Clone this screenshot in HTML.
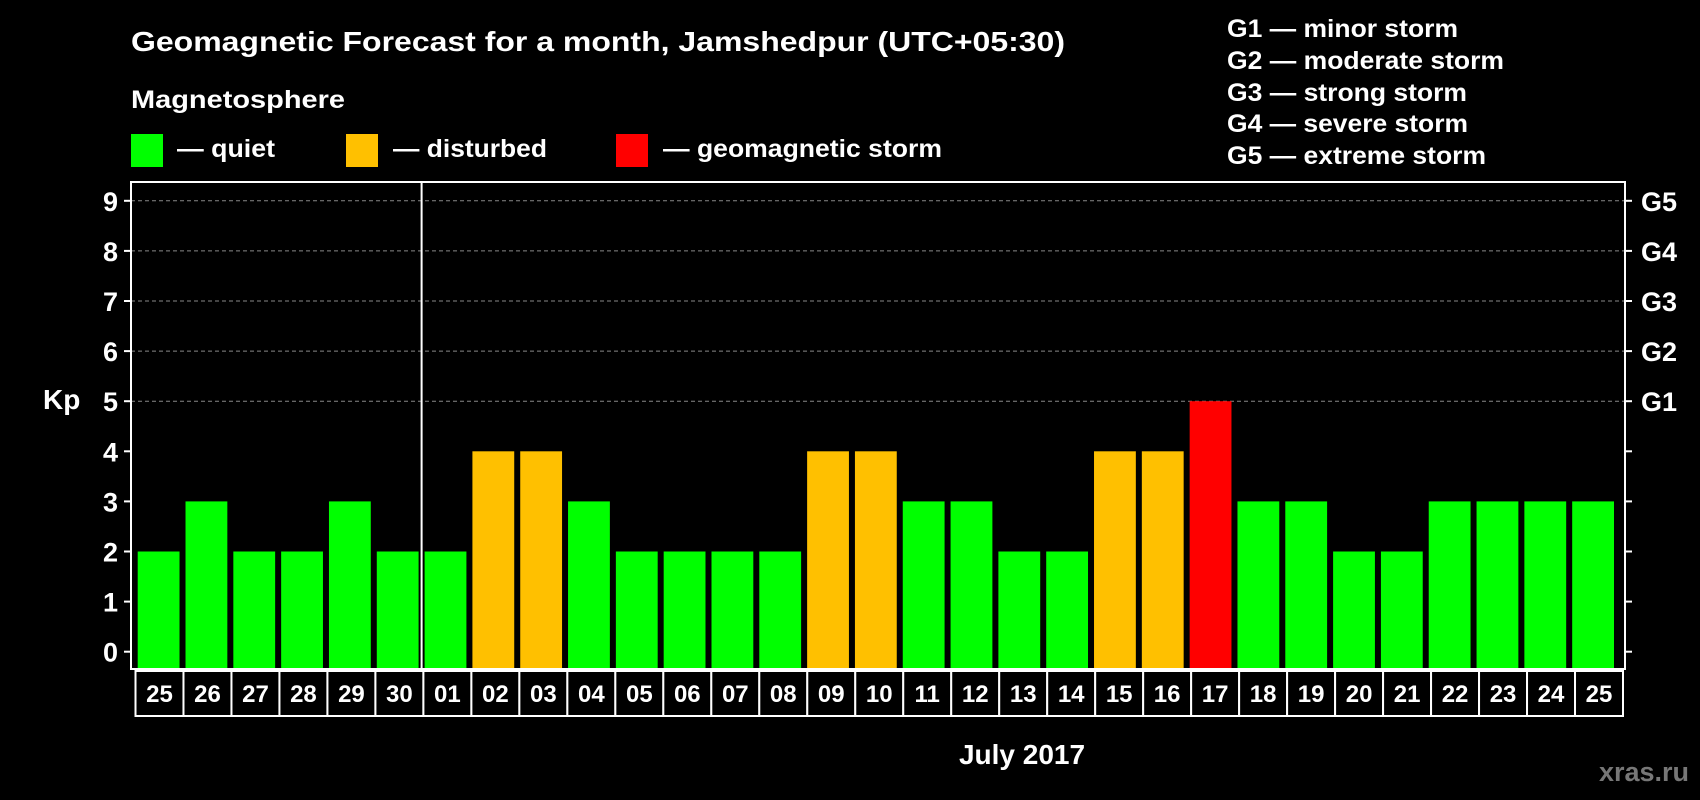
<!DOCTYPE html>
<html><head><meta charset="utf-8"><style>
html,body{margin:0;padding:0;background:#000;}
svg{display:block;font-family:"Liberation Sans",sans-serif;font-weight:bold;}
</style></head><body>
<svg id="chart" width="1700" height="800" viewBox="0 0 1700 800">
<rect x="0" y="0" width="1700" height="800" fill="#000"/>
<text x="131" y="51" font-size="28" fill="#fff" textLength="934" lengthAdjust="spacingAndGlyphs">Geomagnetic Forecast for a month, Jamshedpur (UTC+05:30)</text>
<text x="131" y="108" font-size="25" fill="#fff" textLength="214" lengthAdjust="spacingAndGlyphs">Magnetosphere</text>
<g>
<rect x="131" y="134" width="32" height="33" fill="#00ff00"/>
<text x="177" y="157" font-size="25" fill="#fff" textLength="98" lengthAdjust="spacingAndGlyphs">— quiet</text></g>
<g>
<rect x="346" y="134" width="32" height="33" fill="#ffc000"/>
<text x="393" y="157" font-size="25" fill="#fff" textLength="154" lengthAdjust="spacingAndGlyphs">— disturbed</text></g>
<g>
<rect x="616" y="134" width="32" height="33" fill="#ff0000"/>
<text x="663" y="157" font-size="25" fill="#fff" textLength="279" lengthAdjust="spacingAndGlyphs">— geomagnetic storm</text></g>
<g font-size="25" fill="#fff">
<text x="1227" y="37" textLength="231" lengthAdjust="spacingAndGlyphs">G1 — minor storm</text>
<text x="1227" y="69" textLength="277" lengthAdjust="spacingAndGlyphs">G2 — moderate storm</text>
<text x="1227" y="101" textLength="240" lengthAdjust="spacingAndGlyphs">G3 — strong storm</text>
<text x="1227" y="132" textLength="241" lengthAdjust="spacingAndGlyphs">G4 — severe storm</text>
<text x="1227" y="164" textLength="259" lengthAdjust="spacingAndGlyphs">G5 — extreme storm</text>
</g>
<text x="43" y="409" font-size="28" fill="#fff">Kp</text>
<text x="1022" y="764" font-size="28" fill="#fff" text-anchor="middle">July 2017</text>
<text x="1689" y="781" font-size="27" fill="#777" text-anchor="end">xras.ru</text>
<g id="plot"></g>
</svg>
<script>
const days = ["25","26","27","28","29","30","01","02","03","04","05","06","07","08","09","10","11","12","13","14","15","16","17","18","19","20","21","22","23","24","25"];
const kpValues = [2,3,2,2,3,2,2,4,4,3,2,2,2,2,4,4,3,3,2,2,4,4,5,3,3,2,2,3,3,3,3];
const yTicks = [0,1,2,3,4,5,6,7,8,9];
const gLabels = ["G1","G2","G3","G4","G5"];
const gLevels = [5,6,7,8,9];
const monthBreakIndex = 6;

const NS = "http://www.w3.org/2000/svg";
const plot = document.getElementById("plot");
const L = 131, R = 1625, T = 182, B = 669;
const y0 = 651.7, unit = 50.1;
const yScale = v => y0 - v * unit;
const x0 = 137.7, pitch = (R - 5 - x0) / days.length, barW = pitch - 6;
const xScale = i => x0 + i * pitch;
function mk(tag, attrs){const e=document.createElementNS(NS,tag);for(const k in attrs)e.setAttribute(k,attrs[k]);plot.appendChild(e);return e;}

// grid
gLevels.forEach(v=>{
  const g = mk("line",{x1:L,x2:R,y1:yScale(v),y2:yScale(v),stroke:"#888","stroke-width":1,"stroke-dasharray":"4,3"});
  
  
});
// bars
kpValues.forEach((v,i)=>{
  const col = v>=5 ? "#ff0000" : (v>=4 ? "#ffc000" : "#00ff00");
  const r = mk("rect",{x:xScale(i),y:yScale(v),width:barW,height:B-1-yScale(v),fill:col});
  
  
});
// month divider
const dx = (xScale(monthBreakIndex-1)+barW + xScale(monthBreakIndex))/2;
const dv = mk("line",{x1:dx,x2:dx,y1:T,y2:B,stroke:"#fff","stroke-width":2});


// frame
const fr = mk("rect",{x:L,y:T,width:R-L,height:B-T,fill:"none",stroke:"#fff","stroke-width":2});


// y ticks
yTicks.forEach(v=>{
  const y = yScale(v);
  const t1 = mk("line",{x1:L-7,x2:L,y1:y,y2:y,stroke:"#fff","stroke-width":2});
  
  
  const t2 = mk("line",{x1:R,x2:R+7,y1:y,y2:y,stroke:"#fff","stroke-width":2});
  
  
  const tx = mk("text",{x:L-13,y:y+10,"font-size":27,fill:"#fff","text-anchor":"end"});
  tx.textContent = v;
  
  
});
gLabels.forEach((g,i)=>{
  const tx = mk("text",{x:R+16,y:yScale(gLevels[i])+10,"font-size":27,fill:"#fff"});
  tx.textContent = g;
  
  
});
// day label boxes
const cL = 135.5, cW = (1623 - cL) / days.length;
days.forEach((d,i)=>{
  const r = mk("rect",{x:cL+i*cW,y:671,width:cW,height:45,fill:"#000",stroke:"#fff","stroke-width":2});
  
  
  const t = mk("text",{x:cL+i*cW+cW/2,y:702,"font-size":24,fill:"#fff","text-anchor":"middle"});
  t.textContent = d;
  
  
});
</script>
</body></html>
